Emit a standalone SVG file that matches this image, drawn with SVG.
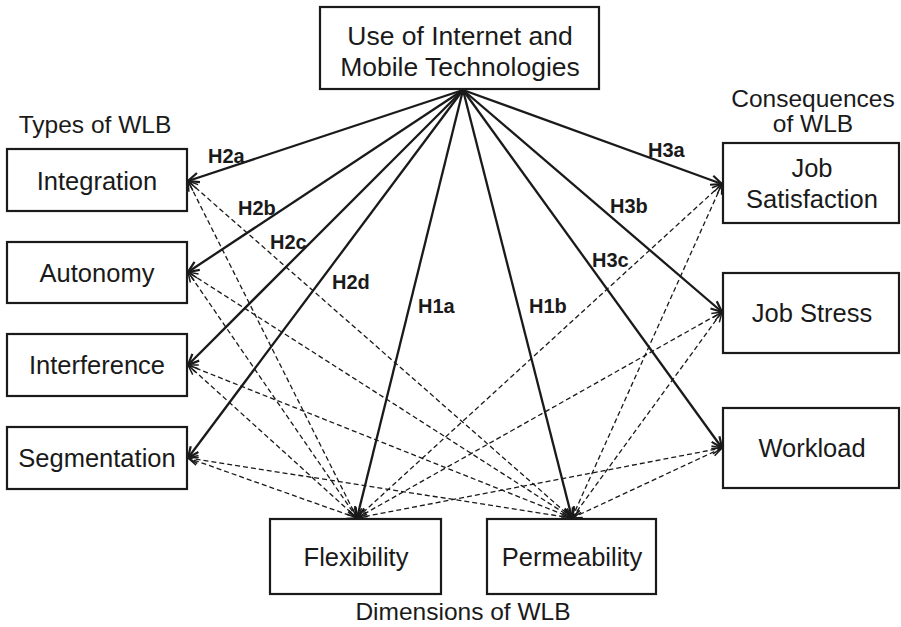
<svg xmlns="http://www.w3.org/2000/svg" width="901" height="627" viewBox="0 0 901 627">
<style>
.box{fill:#fff;stroke:#1a1a1a;stroke-width:2.2}
.t{font-family:"Liberation Sans",Arial,sans-serif;font-size:25.5px;fill:#1a1a1a;text-anchor:middle}
.top{font-size:26.5px}
.cat{font-size:24.5px}
.lbl{font-family:"Liberation Sans",Arial,sans-serif;font-size:20px;font-weight:bold;fill:#1a1a1a}
.solid{stroke:#1a1a1a;stroke-width:2.3;fill:none;marker-end:url(#ah)}
.dash{stroke:#1a1a1a;stroke-width:1.3;stroke-dasharray:5 3;fill:none;marker-start:url(#dh);marker-end:url(#dh)}
</style>
<defs>
<marker id="ah" markerUnits="userSpaceOnUse" markerWidth="14" markerHeight="12" viewBox="0 0 14 12" refX="12.5" refY="6" orient="auto">
<path d="M1.5,1.2 L12.5,6 L1.5,10.8" fill="none" stroke="#1a1a1a" stroke-width="2.2" stroke-dasharray="none"/>
</marker>
<marker id="dh" markerUnits="userSpaceOnUse" markerWidth="12" markerHeight="10" viewBox="0 0 12 10" refX="11" refY="5" orient="auto-start-reverse">
<path d="M1,1 L11,5 L1,9" fill="none" stroke="#1a1a1a" stroke-width="1.5" stroke-dasharray="none"/>
</marker>
</defs>
<rect width="901" height="627" fill="#fff"/>

<g id="connectors">
<g id="solid-links">
<line class="solid" x1="463" y1="90" x2="188" y2="181"/>
<line class="solid" x1="463" y1="90" x2="188" y2="272"/>
<line class="solid" x1="463" y1="90" x2="188" y2="365"/>
<line class="solid" x1="463" y1="90" x2="188" y2="458"/>
<line class="solid" x1="463" y1="90" x2="357" y2="518"/>
<line class="solid" x1="463" y1="90" x2="572" y2="518"/>
<line class="solid" x1="463" y1="90" x2="722" y2="184"/>
<line class="solid" x1="463" y1="90" x2="722" y2="312"/>
<line class="solid" x1="463" y1="90" x2="722" y2="448"/>
</g>
<g id="dashed-links">
<line class="dash" x1="357" y1="518" x2="188" y2="181"/>
<line class="dash" x1="357" y1="518" x2="188" y2="272"/>
<line class="dash" x1="357" y1="518" x2="188" y2="365"/>
<line class="dash" x1="357" y1="518" x2="188" y2="458"/>
<line class="dash" x1="357" y1="518" x2="722" y2="184"/>
<line class="dash" x1="357" y1="518" x2="722" y2="312"/>
<line class="dash" x1="357" y1="518" x2="722" y2="448"/>
<line class="dash" x1="572" y1="518" x2="188" y2="181"/>
<line class="dash" x1="572" y1="518" x2="188" y2="272"/>
<line class="dash" x1="572" y1="518" x2="188" y2="365"/>
<line class="dash" x1="572" y1="518" x2="188" y2="458"/>
<line class="dash" x1="572" y1="518" x2="722" y2="184"/>
<line class="dash" x1="572" y1="518" x2="722" y2="312"/>
<line class="dash" x1="572" y1="518" x2="722" y2="448"/>
</g>
<g id="link-labels">
<text class="lbl" x="208" y="163">H2a</text>
<text class="lbl" x="238" y="215">H2b</text>
<text class="lbl" x="270" y="249">H2c</text>
<text class="lbl" x="332" y="289">H2d</text>
<text class="lbl" x="418" y="313">H1a</text>
<text class="lbl" x="529" y="313">H1b</text>
<text class="lbl" x="648" y="157">H3a</text>
<text class="lbl" x="610" y="213">H3b</text>
<text class="lbl" x="592" y="267">H3c</text>
</g>
</g>

<g id="use-tech">
<rect class="box" x="320" y="7" width="279" height="82"/>
<text class="t top" x="460" y="45">Use of Internet and</text>
<text class="t top" x="460" y="76">Mobile Technologies</text>
</g>

<g id="types-label"><text class="t cat" x="95" y="133">Types of WLB</text></g>
<g id="integration">
<rect class="box" x="7" y="149" width="180" height="62"/>
<text class="t" x="97" y="190">Integration</text>
</g>
<g id="autonomy">
<rect class="box" x="7" y="242" width="180" height="61"/>
<text class="t" x="97" y="282">Autonomy</text>
</g>
<g id="interference">
<rect class="box" x="7" y="334" width="180" height="62"/>
<text class="t" x="97" y="374">Interference</text>
</g>
<g id="segmentation">
<rect class="box" x="7" y="427" width="180" height="62"/>
<text class="t" x="97" y="467">Segmentation</text>
</g>

<g id="consequences-label">
<text class="t cat" x="813" y="107">Consequences</text>
<text class="t cat" x="813" y="132">of WLB</text>
</g>
<g id="job-satisfaction">
<rect class="box" x="723" y="143" width="176" height="80"/>
<text class="t" x="812" y="177">Job</text>
<text class="t" x="812" y="208">Satisfaction</text>
</g>
<g id="job-stress">
<rect class="box" x="723" y="273" width="176" height="80"/>
<text class="t" x="812" y="322">Job Stress</text>
</g>
<g id="workload">
<rect class="box" x="723" y="408" width="176" height="80"/>
<text class="t" x="812" y="457">Workload</text>
</g>

<g id="flexibility">
<rect class="box" x="270" y="519" width="171" height="75"/>
<text class="t" x="356" y="566">Flexibility</text>
</g>
<g id="permeability">
<rect class="box" x="487" y="519" width="169" height="75"/>
<text class="t" x="572" y="566">Permeability</text>
</g>
<g id="dimensions-label"><text class="t cat" x="463" y="620">Dimensions of WLB</text></g>
</svg>
